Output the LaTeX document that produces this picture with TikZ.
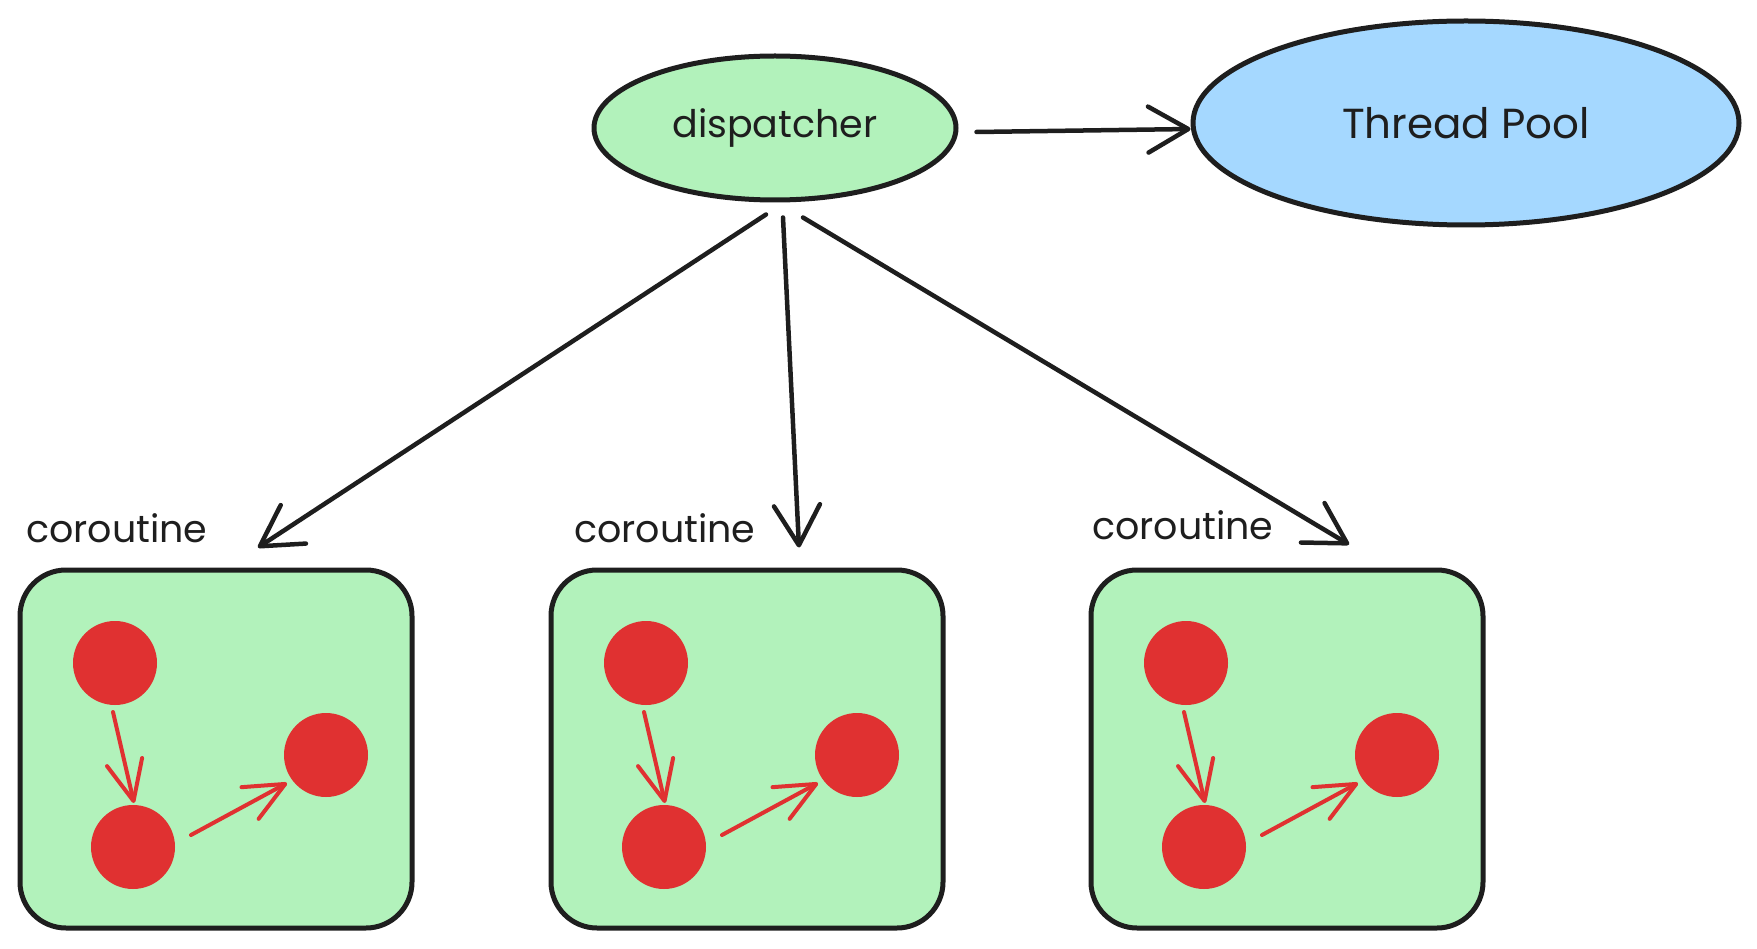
\documentclass[tikz,border=0pt]{standalone}
\usepackage{fontspec}
\setmainfont{Poppins}
\usetikzlibrary{arrows.meta,shapes.geometric,calc}
\definecolor{ink}{HTML}{1E1E1E}
\definecolor{gfill}{HTML}{B2F2BB}
\definecolor{bfill}{HTML}{A5D8FF}
\definecolor{rfill}{HTML}{E03131}
\begin{document}
\begin{tikzpicture}[x=1pt,y=-1pt,
  ell/.style={ellipse, draw=ink, line width=5pt, inner sep=0pt, text=ink},
  cobox/.style={draw=ink, fill=gfill, line width=5pt, rounded corners=46pt, minimum width=392pt, minimum height=358pt, inner sep=0pt},
  dot/.style={circle, fill=rfill, minimum size=84pt, inner sep=0pt},
  lbl/.style={font=\fontsize{38}{44}\selectfont, text=ink, inner sep=0pt},
  bigarrow/.style={draw=ink, line width=4.5pt, line cap=round, -{Straight Barb[length=40pt,width=46pt,round]}},
  redarrow/.style={draw=rfill, line width=4pt, line cap=round, -{Straight Barb[length=40pt,width=36pt,round]}}]
\useasboundingbox (0,0) rectangle (1757,949);

\node[ell, fill=gfill, minimum width=362pt, minimum height=144pt, font=\fontsize{38}{44}\selectfont] (disp) at (775,128) {dispatcher};
\node[ell, fill=bfill, minimum width=546pt, minimum height=204pt, font=\fontsize{42}{48}\selectfont] (tp) at (1466,123) {Thread Pool};

\foreach \i/\cx/\lx/\ly in {1/216/26/542, 2/747/574/542, 3/1287/1092/539} {
  \node[cobox] (box\i) at (\cx,749) {};
  \node[lbl, anchor=base west] (lab\i) at (\lx,\ly) {coroutine};
  \node[dot] (ca\i) at (\cx-101,663) {};
  \node[dot] (cb\i) at (\cx-83,847) {};
  \node[dot] (cc\i) at (\cx+110,755) {};
  \draw[redarrow] ($(ca\i)+(-2,49)$) -- ($(cb\i)+(1,-44)$);
  \draw[redarrow] ($(cb\i)+(58,-12)$) -- ($(cc\i)+(-39,28)$);
}

\coordinate (s1) at ($(disp.south)+(-9,12)$);
\coordinate (s2) at ($(disp.south)+(8,15)$);
\coordinate (s3) at ($(disp.south)+(28,15)$);
\coordinate (e1) at ($(box1.north)+(42,-20)$);
\coordinate (e2) at ($(box2.north)+(52,-20)$);
\coordinate (e3) at ($(box3.north)+(62,-23)$);
\draw[bigarrow] (s1) -- (e1);
\draw[bigarrow] (s2) -- (e2);
\draw[bigarrow] (s3) -- (e3);

\coordinate (s0) at ($(disp.east)+(18,4)$);
\coordinate (e0) at ($(tp.west)+(0,6)$);
\draw[bigarrow] (s0) -- (e0);
\end{tikzpicture}
\end{document}
